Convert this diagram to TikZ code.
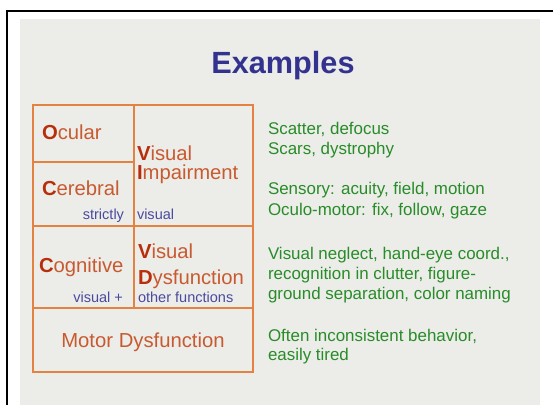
\documentclass[tikz,border=0pt]{standalone}
\usepackage{fontspec}
\setmainfont{Liberation Sans}
\usetikzlibrary{positioning, calc}
\definecolor{colSlide}{RGB}{236, 236, 233}
\definecolor{colLine}{RGB}{228, 130, 66}
\definecolor{colText}{RGB}{200, 90, 48}
\definecolor{colInit}{RGB}{184, 46, 10}
\definecolor{colTitle}{RGB}{51, 51, 143}
\definecolor{colNote}{RGB}{74, 74, 160}
\definecolor{colGreen}{RGB}{40, 140, 40}
\newcommand{\firstch}[1]{{\bfseries\color{colInit}#1}}

\begin{document}
\begin{tikzpicture}[x=0.75pt, y=-0.75pt,
    every node/.style={inner sep=0pt, outer sep=0pt},
    title/.style={anchor=base, font=\fontsize{23}{27}\bfseries, text=colTitle},
    cell/.style={anchor=base west, font=\fontsize{15.2}{18}\selectfont, text=colText},
    note/.style={anchor=base west, font=\fontsize{10.9}{13}\selectfont, text=colNote},
    remark/.style={anchor=base west, font=\fontsize{12.7}{15}\selectfont, text=colGreen}]
    \useasboundingbox (0, 0) rectangle (553, 405);

    % --- Slide ---
    \fill[colSlide] (20, 19) rectangle (540, 405);
    \draw[line width=1.9pt] (553, 11) -- (7, 11) -- (7, 405);

    \node[title] (title) at (283, 73) {Examples};

    % --- Table ---
    \draw[colLine, line width=0.8pt] (134, 105) -- (134, 308);
    \draw[colLine, line width=0.8pt] (33, 162) -- (134, 162);
    \draw[colLine, line width=1.7pt] (33, 226) -- (253, 226);
    \draw[colLine, line width=1.2pt] (33, 308) -- (253, 308);
    \draw[colLine, line width=1.4pt] (33, 105) rectangle (253, 372);

    % Top block
    \node[cell] (ocular) at (42, 139) {\firstch{O}cular};
    \node[cell] (cerebral) at (42, 195) {\firstch{C}erebral};
    \node[note, anchor=base east] (strictly) at (124, 219) {strictly};
    \node[cell] (visA) at (137, 160) {\firstch{V}isual};
    \node[cell] (impair) at (137, 179) {\firstch{I}mpairment};
    \node[note] (visNote) at (137, 219) {visual};

    % Middle block
    \node[cell] (cognitive) at (39, 272) {\firstch{C}ognitive};
    \node[cell] (visB) at (138, 258) {\firstch{V}isual};
    \node[cell] (dysfunc) at (138, 284) {\firstch{D}ysfunction};
    \node[note, anchor=base east] (visPlus) at (123, 302) {visual +};
    \node[note] (otherFn) at (138, 302) {other functions};

    % Bottom block
    \node[cell, anchor=base] (motor) at (143, 347) {Motor Dysfunction};

    % --- Remarks ---
    \foreach \txt/\yy [count=\i] in {
        {Scatter, defocus}/134, {Scars, dystrophy}/154,
        {Sensory: acuity, field, motion}/194, {Oculo-motor: fix, follow, gaze}/215,
        {Visual neglect, hand-eye coord.,}/259, {recognition in clutter, figure-}/279,
        {ground separation, color naming}/299,
        {Often inconsistent behavior,}/341, {easily tired}/360} {
        \node[remark] (rem\i) at (268, \yy) {\txt};
    }
\end{tikzpicture}
\end{document}
